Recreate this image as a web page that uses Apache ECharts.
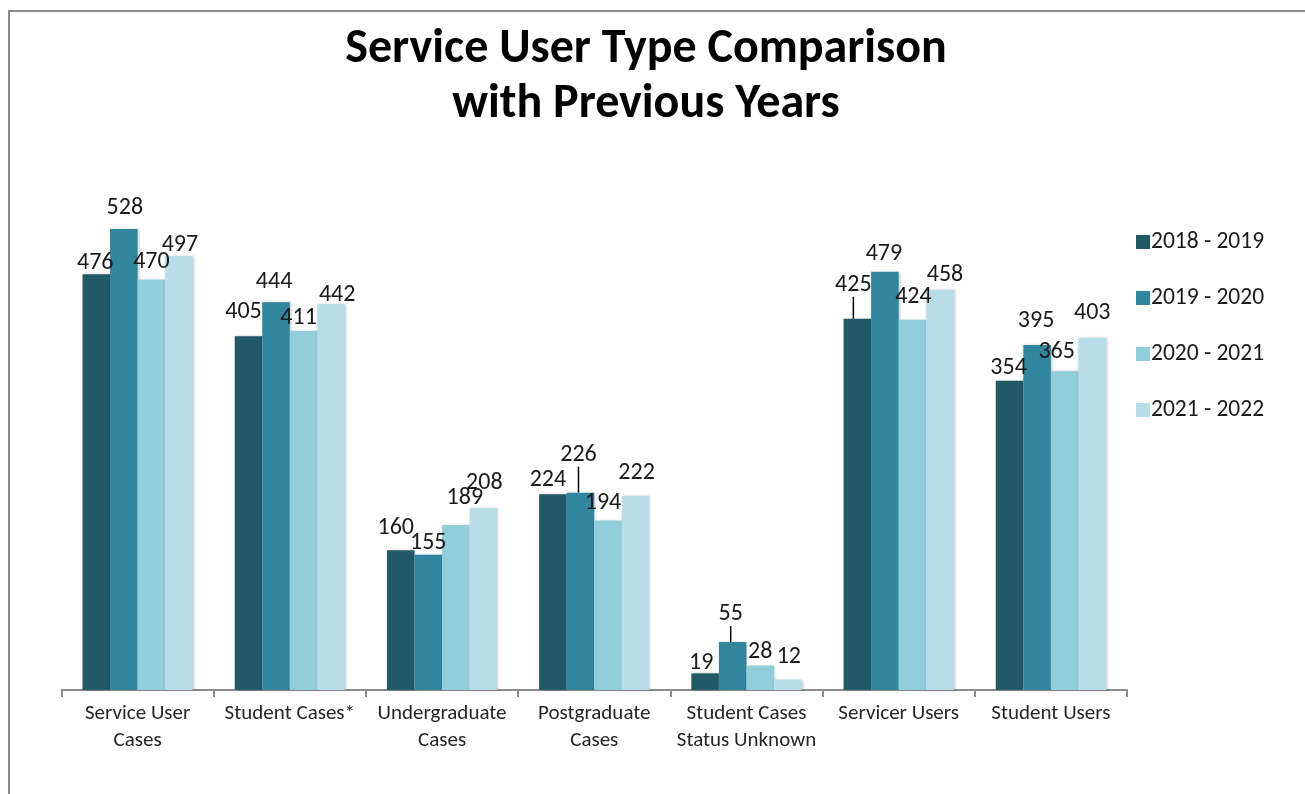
<!DOCTYPE html>
<html>
<head>
<meta charset="utf-8">
<title>Service User Type Comparison with Previous Years</title>
<script src="https://cdn.jsdelivr.net/npm/echarts@6/dist/echarts.min.js"></script>
<style>
  html, body { margin: 0; padding: 0; background: #ffffff; }
  #chart { width: 1305px; height: 794px; }
</style>
</head>
<body>
<div id="chart"></div>
<script>
// Category names along the x axis
const categories = [
  'Service User\nCases',
  'Student Cases*',
  'Undergraduate\nCases',
  'Postgraduate\nCases',
  'Student Cases\nStatus Unknown',
  'Servicer Users',
  'Student Users'
];

// One series per academic year
const seriesNames = ['2018 - 2019', '2019 - 2020', '2020 - 2021', '2021 - 2022'];
const values2018 = [476, 405, 160, 224, 19, 425, 354];
const values2019 = [528, 444, 155, 226, 55, 479, 395];
const values2020 = [470, 411, 189, 194, 28, 424, 365];
const values2021 = [497, 442, 208, 222, 12, 458, 403];

const colors = ['#215967', '#31859C', '#92CDDC', '#B7DEE8'];

// Nudges for value labels that sit off their default spot ([dx, dy] per bar)
const labelNudges = [
  [[-1, 1], [-5, -12], [-5, -10], [-5, -2], [-4, 2], [-4, -22], [-1, -1]],
  [[1, -9], [-2, -8], [0, 0], [-2, -26], [-2, -16], [-1, -6], [-1, -12]],
  [[0, -6], [-5, -1], [9, -15], [-5, -6], [0, -2], [1, -11], [-8, -7]],
  [[1, 1], [6, 3], [1, -13], [1, -11], [1, -11], [5, -3], [0, -13]]
];
// Labels that get a short leader line back to their bar
const leaderLines = [[0, 5], [1, 3], [1, 4]];

const allValues = [values2018, values2019, values2020, values2021];
const FONT = 'Carlito, Lato, "Open Sans", sans-serif';

const series = allValues.map((vals, si) => ({
  name: seriesNames[si],
  type: 'bar',
  barGap: '0%',
  barCategoryGap: '27.6%',
  itemStyle: {
    color: colors[si],
    shadowColor: 'rgba(0,0,0,0.22)',
    shadowBlur: 3,
    shadowOffsetX: 1,
    shadowOffsetY: 0
  },
  emphasis: { disabled: true },
  data: vals.map((v, di) => {
    const item = { value: v };
    if (leaderLines.some(p => p[0] === si && p[1] === di)) {
      item.labelLine = { show: true };
    }
    return item;
  }),
  label: {
    show: true,
    position: 'top',
    distance: 0,
    color: '#1a1a1a',
    fontFamily: FONT,
    fontSize: 24
  },
  labelLine: {
    show: false,
    smooth: false,
    length2: 0,
    lineStyle: { color: '#000000', width: 1.5 }
  },
  labelLayout: (params) => {
    const n = labelNudges[si][params.dataIndex];
    return { dx: n[0], dy: n[1] };
  }
}));

const chart = echarts.init(document.getElementById('chart'), null, { renderer: 'canvas' });

chart.setOption({
  backgroundColor: '#ffffff',
  animation: false,
  color: colors,
  title: {
    text: 'Service User Type Comparison\nwith Previous Years',
    left: 641,
    textAlign: 'center',
    top: 17,
    textStyle: {
      fontFamily: FONT,
      fontWeight: 'bold',
      fontSize: 48,
      lineHeight: 55,
      color: '#000000'
    }
  },
  legend: {
    orient: 'vertical',
    left: 1131,
    top: 225,
    itemWidth: 14,
    itemHeight: 14,
    itemGap: 32,
    icon: 'rect',
    textStyle: {
      fontFamily: FONT,
      fontSize: 23.5,
      color: '#1a1a1a',
      padding: [0, 0, 0, -4]
    },
    data: seriesNames
  },
  grid: {
    left: 61.5,
    right: 178,
    top: 166,
    bottom: 104,
    containLabel: false
  },
  xAxis: {
    type: 'category',
    data: categories,
    axisLine: { lineStyle: { color: '#8c8c8c', width: 2 } },
    axisTick: { show: true, length: 7, lineStyle: { color: '#8c8c8c', width: 2 } },
    axisLabel: {
      interval: 0,
      margin: 10,
      fontFamily: FONT,
      fontSize: 21,
      lineHeight: 27,
      color: '#262626'
    }
  },
  yAxis: {
    type: 'value',
    min: 0,
    max: 600,
    interval: 100,
    show: false,
    splitLine: { show: false }
  },
  series: series,
  graphic: [
    {
      type: 'rect',
      shape: { x: 9, y: 11, width: 1320, height: 820 },
      style: { fill: 'none', stroke: '#8a8a8a', lineWidth: 2 },
      silent: true
    }
  ]
});
</script>
</body>
</html>
